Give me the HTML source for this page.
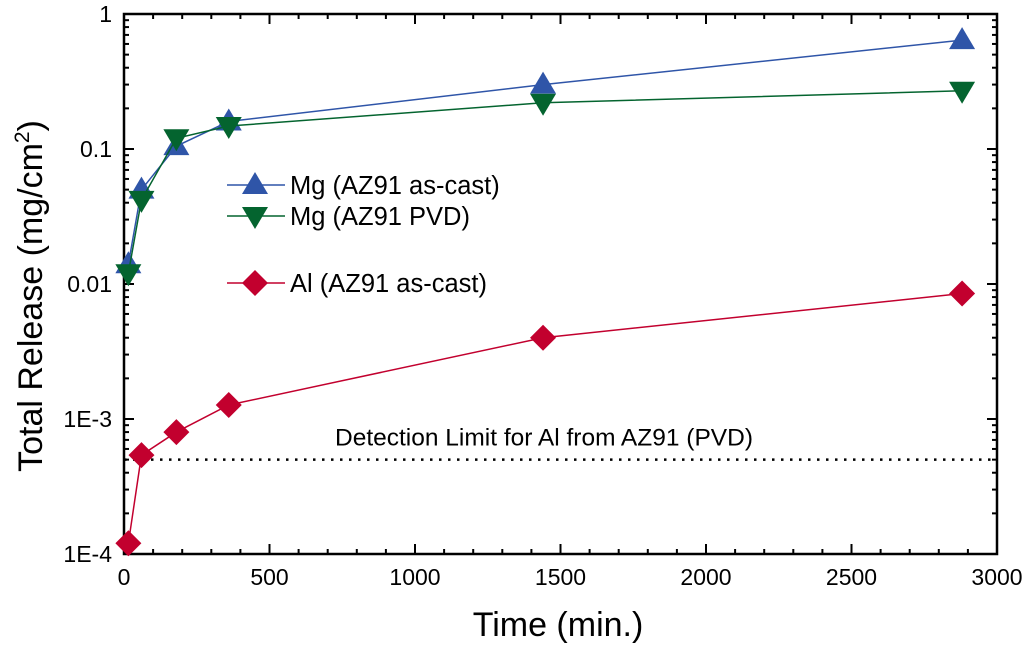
<!DOCTYPE html>
<html><head><meta charset="utf-8"><style>
body{margin:0;background:#fff}
svg{display:block;font-family:"Liberation Sans",Arial,sans-serif}
</style></head><body>
<svg id="c" width="1024" height="645"></svg>
<script>
const times=[15,60,180,360,1440,2880];
const mgCast=[0.014,0.05,0.105,0.16,0.30,0.64];
const mgPvd=[0.012,0.042,0.12,0.148,0.22,0.27];
const alCast=[1.2e-4,5.4e-4,8e-4,1.27e-3,4.0e-3,8.5e-3];
const detectionLimit=5e-4;
const xTicks=[0,500,1000,1500,2000,2500,3000];
const yTicks=[1e-4,1e-3,0.01,0.1,1];
const yTickLabels=["1E-4","1E-3","0.01","0.1","1"];

const L=124,R=997,T=14,B=554;
const X=v=>L+(v/3000)*(R-L);
const Y=v=>T+(0-Math.log10(v))*(B-T)/4;
const svg=document.getElementById('c');
const NS='http://www.w3.org/2000/svg';
function mk(tag,attrs,parent){const e=document.createElementNS(NS,tag);for(const k in attrs)e.setAttribute(k,attrs[k]);(parent||svg).appendChild(e);return e;}

let fr=mk('rect',{x:L,y:T,width:R-L,height:B-T,fill:'none',stroke:'#000','stroke-width':2.5});



for(let v=0;v<=3000;v+=100){const x=X(v);const maj=v%500===0;const len=maj?10:5;
 mk('line',{x1:x,y1:B,x2:x,y2:B-len,stroke:'#000','stroke-width':2});
 mk('line',{x1:x,y1:T,x2:x,y2:T+len,stroke:'#000','stroke-width':2});}
xTicks.forEach(v=>{const t=mk('text',{x:X(v),y:B+31,'text-anchor':'middle','font-size':23});t.textContent=v;
 
 });
for(let d=-4;d<0;d++){for(let m=1;m<10;m++){const v=m*Math.pow(10,d);const y=Y(v);const len=m===1?10:5;
 mk('line',{x1:L,y1:y,x2:L+len,y2:y,stroke:'#000','stroke-width':2});
 mk('line',{x1:R,y1:y,x2:R-len,y2:y,stroke:'#000','stroke-width':2});}}
yTicks.forEach((v,i)=>{const t=mk('text',{x:L-12,y:Y(v)+8,'text-anchor':'end','font-size':23});t.textContent=yTickLabels[i];
 
 });

let xt=mk('text',{x:558,y:636,'text-anchor':'middle','font-size':34});xt.textContent='Time (min.)';


let yt=mk('text',{x:0,y:0,'text-anchor':'middle','font-size':34,transform:`translate(42,296) rotate(-90)`});
yt.innerHTML='Total Release (mg/cm<tspan dy="-13" font-size="21">2</tspan><tspan dy="13">)</tspan>';



let dl=mk('line',{x1:L,y1:Y(detectionLimit),x2:R,y2:Y(detectionLimit),stroke:'#000','stroke-width':2.5,'stroke-dasharray':'2.5,6.5'});


let dt=mk('text',{x:544,y:Y(detectionLimit)-14,'text-anchor':'middle','font-size':24.5});dt.textContent='Detection Limit for Al from AZ91 (PVD)';



function marker(kind,x,y,color,g){
 if(kind==='up')return mk('polygon',{points:`${x},${y-13} ${x+13},${y+9} ${x-13},${y+9}`,fill:color},g);
 if(kind==='down')return mk('polygon',{points:`${x-13},${y-9} ${x+13},${y-9} ${x},${y+13}`,fill:color},g);
 return mk('polygon',{points:`${x},${y-13} ${x+13},${y} ${x},${y+13} ${x-13},${y}`,fill:color},g);
}
function series(vals,color,kind,name){
 const g=mk('g',{});
 
 
 const pts=times.map((t,i)=>X(t)+','+Y(vals[i])).join(' ');
 mk('polyline',{points:pts,fill:'none',stroke:color,'stroke-width':1.5},g);
 times.forEach((t,i)=>{const m=marker(kind,X(t),Y(vals[i]),color,g);
  
  });
}
series(mgCast,'#2f55a8','up','mg-as-cast-series');
series(mgPvd,'#04642f','down','mg-pvd-series');
series(alCast,'#c2002e','dia','al-as-cast-series');

const leg=[['Mg (AZ91 as-cast)','#2f55a8','up',185],['Mg (AZ91 PVD)','#04642f','down',216],['Al (AZ91 as-cast)','#c2002e','dia',283]];
leg.forEach(([lab,c,k,y])=>{const g=mk('g',{});
 
 
 mk('line',{x1:227,y1:y,x2:285,y2:y,stroke:c,'stroke-width':1.5},g);
 marker(k,255,y,c,g);
 const t=mk('text',{x:290,y:y+9,'font-size':25.5},g);t.textContent=lab;});
</script>
</body></html>
